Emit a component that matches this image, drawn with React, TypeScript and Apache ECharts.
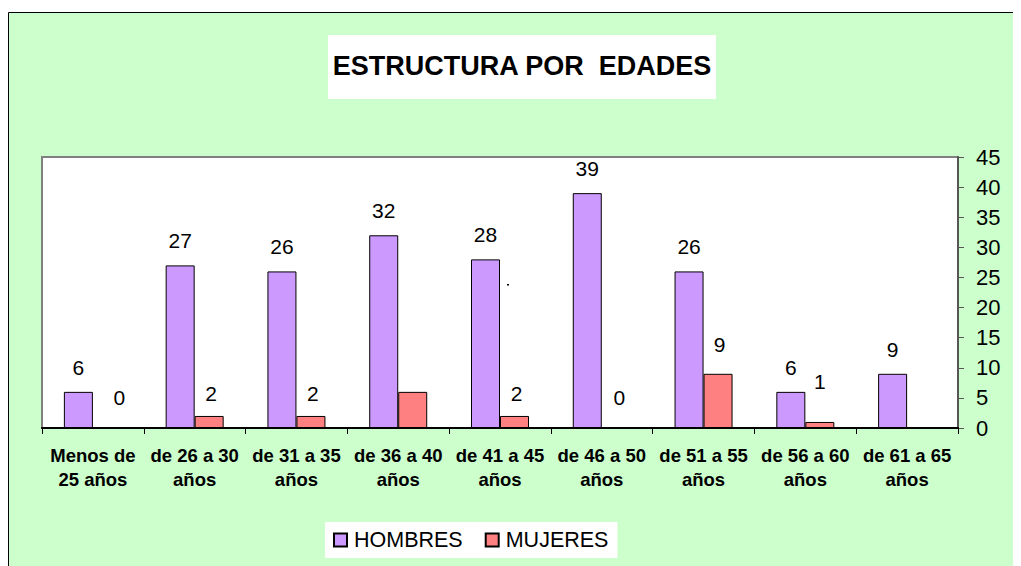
import React, { useEffect, useRef } from "react";
import * as echarts from "echarts";

const categories = [
  "Menos de\n25 años",
  "de 26 a 30\naños",
  "de 31 a 35\naños",
  "de 36 a 40\naños",
  "de 41 a 45\naños",
  "de 46 a 50\naños",
  "de 51 a 55\naños",
  "de 56 a 60\naños",
  "de 61 a 65\naños",
];
const hombres = [6, 27, 26, 32, 28, 39, 26, 6, 9];
const mujeres: (number | null)[] = [0, 2, 2, 6, 2, 0, 9, 1, null];
const mujeresLabelShown = [true, true, true, false, true, true, true, true, false];
const mujeresLabelOffset = [
  [12, -5.5],
  [2, 2.5],
  [2, 2.5],
  [0, 0],
  [2, 2.5],
  [3, -5.5],
  [1.5, -4.5],
  [0, -16],
  [0, 0],
];
const yTicks = { min: 0, max: 45, interval: 5 };
const titleText = "ESTRUCTURA POR  EDADES";
const seriesNames = ["HOMBRES", "MUJERES"];

const FONT = "'Liberation Sans', Arial, sans-serif";

export default function App() {
  const ref = useRef<HTMLDivElement>(null);
  useEffect(() => {
    if (!ref.current) return;
    const chart = echarts.init(ref.current, undefined, { renderer: "svg" });
    chart.setOption({
      animation: false,
      textStyle: { fontFamily: FONT },
      graphic: [
        {
          type: "rect",
          z: -10,
          silent: true,
          shape: { x: 0.5, y: 4.5, width: 1030, height: 600 },
          style: { fill: "#CCFFCC", stroke: "#000", lineWidth: 1 },
        },
        {
          type: "rect",
          z: -9,
          silent: true,
          shape: { x: 320, y: 27, width: 388, height: 64 },
          style: { fill: "#ffffff" },
        },
        {
          type: "text",
          z: 10,
          x: 514,
          y: 58,
          style: {
            text: titleText,
            fontFamily: FONT,
            fontWeight: "bold",
            fontSize: 27,
            fill: "#000",
            align: "center",
            verticalAlign: "middle",
          },
        },
        {
          type: "rect",
          z: 10,
          silent: true,
          shape: { x: 499, y: 276, width: 2, height: 1.5 },
          style: { fill: "#000" },
        },
      ],
      legend: {
        data: seriesNames,
        left: 317,
        top: 514,
        backgroundColor: "#ffffff",
        padding: [7, 9, 7, 8],
        itemWidth: 13,
        itemHeight: 13,
        itemGap: 22,
        icon: "rect",
        textStyle: { fontSize: 21.5, color: "#000", fontFamily: FONT, padding: [0, 0, 0, 2] },
      },
      grid: {
        left: 34,
        top: 149,
        right: 63,
        bottom: 138,
        show: true,
        backgroundColor: "#ffffff",
        borderColor: "#808080",
        borderWidth: 2,
        containLabel: false,
        outerBoundsMode: "none",
      },
      xAxis: {
        type: "category",
        data: categories,
        axisLine: { show: true, lineStyle: { color: "#000", width: 2 } },
        axisTick: { show: true, length: 6, lineStyle: { color: "#000" } },
        axisLabel: {
          interval: 0,
          fontSize: 18.5,
          fontWeight: "bold",
          lineHeight: 24,
          color: "#000",
          margin: 15,
          fontFamily: FONT,
        },
      },
      yAxis: {
        type: "value",
        position: "right",
        min: yTicks.min,
        max: yTicks.max,
        interval: yTicks.interval,
        splitLine: { show: false },
        axisLine: { show: true, lineStyle: { color: "#555", width: 2 } },
        axisTick: { show: true, length: 6, lineStyle: { color: "#555" } },
        axisLabel: { fontSize: 22, color: "#000", margin: 18, fontFamily: FONT },
      },
      series: [
        {
          name: seriesNames[0],
          type: "bar",
          data: hombres,
          barWidth: 29,
          barGap: "0%",
          itemStyle: { color: "#CC99FF", borderColor: "#000", borderWidth: 1 },
          label: {
            show: true,
            position: "top",
            distance: 14,
            fontSize: 21,
            color: "#000",
            fontFamily: FONT,
          },
        },
        {
          name: seriesNames[1],
          type: "bar",
          data: mujeres.map((v, i) => ({
            value: v === null ? "-" : v,
            label: { show: mujeresLabelShown[i], offset: mujeresLabelOffset[i] },
          })),
          barWidth: 29,
          itemStyle: { color: "#FF8080", borderColor: "#000", borderWidth: 1 },
          label: {
            show: true,
            position: "top",
            distance: 14,
            fontSize: 21,
            color: "#000",
            fontFamily: FONT,
          },
        },
      ],
    });
    return () => chart.dispose();
  }, []);
  return <div ref={ref} style={{ width: 1013, height: 558 }} />;
}
